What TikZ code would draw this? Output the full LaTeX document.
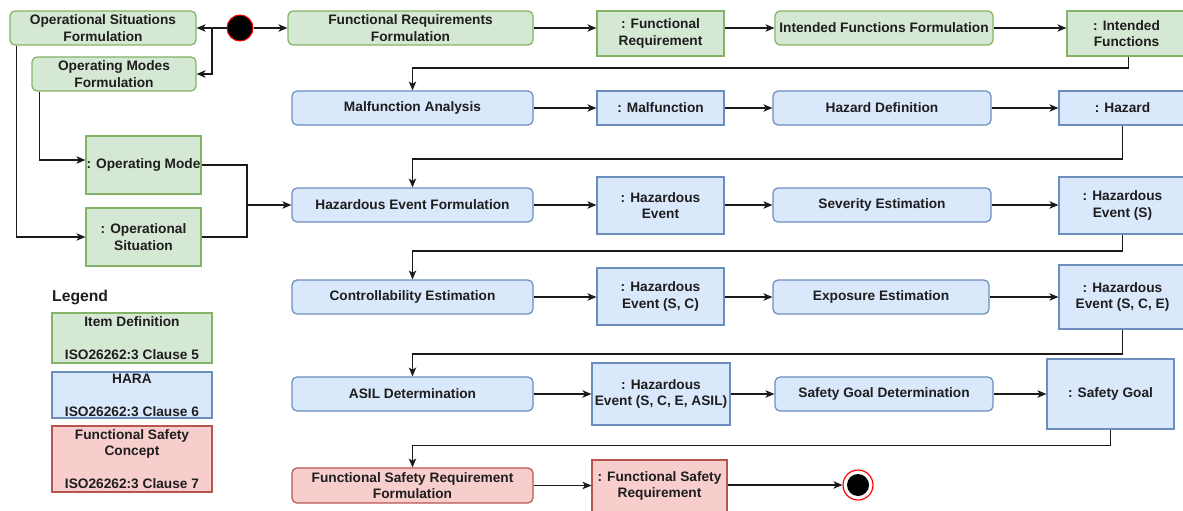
\documentclass[tikz,border=0pt]{standalone}
\usepackage{fontspec}
\setmainfont{Liberation Sans}
\usetikzlibrary{arrows.meta}

\definecolor{txt}{HTML}{1E1E1E}
\definecolor{gfill}{HTML}{D5E8D4}
\definecolor{gline}{HTML}{82B366}
\definecolor{bfill}{HTML}{DAE8FC}
\definecolor{bline}{HTML}{6C8EBF}
\definecolor{rfill}{HTML}{F8CECC}
\definecolor{rline}{HTML}{B85450}
\definecolor{wire}{HTML}{1A1A1A}

\begin{document}
\begin{tikzpicture}[x=1pt,y=-1pt,
  every node/.style={font=\fontsize{13.7}{16.5}\selectfont\bfseries, text=txt,
    align=center, inner sep=0pt},
  base/.style={draw, line width=1.2pt},
  proc/.style={base, rounded corners=5pt},
  obj/.style={base},
  itemdef/.style={fill=gfill, draw=gline},
  hara/.style={fill=bfill, draw=bline},
  fsc/.style={fill=rfill, draw=rline},
  sz/.style 2 args={minimum width=#1pt, minimum height=#2pt},
  arr/.style={draw=wire, line width=1.2pt, -{Stealth[length=9pt,width=7.5pt,inset=2.5pt]}},
  ln/.style={draw=wire, line width=1.2pt},
  startnode/.style={circle, draw=red, line width=1pt, fill=black, minimum size=26pt},
  endnode/.style={circle, draw=red, line width=1.2pt, fill=white, minimum size=30pt,
    path picture={\fill[black] (path picture bounding box.center) circle (11pt);}}
]
\useasboundingbox (0,0) rectangle (1183,511);

% ---- Item definition (green) ----
\node[proc, itemdef, sz={186}{34}] (OSF) at (103,28) {Operational Situations\\Formulation};
\node[proc, itemdef, sz={164}{34}] (OMF) at (114,74) {Operating Modes\\Formulation};
\node[startnode] (S) at (240,28) {};
\node[proc, itemdef, sz={245}{34}] (FRF) at (410.5,28) {Functional Requirements\\Formulation};
\node[obj, itemdef, sz={127}{45}] (FR) at (660.5,33.5) {: Functional\\Requirement};
\node[proc, itemdef, sz={218}{34}] (IFF) at (884,28) {Intended Functions Formulation};
\node[obj, itemdef, sz={119}{45}] (IF) at (1126.5,33.5) {: Intended\\Functions};

\node[obj, itemdef, sz={115}{58}] (OM) at (143.5,165) {: Operating Mode};
\node[obj, itemdef, sz={115}{58}] (OS) at (143.5,237) {: Operational\\Situation};

% ---- HARA (blue) ----
\node[proc, hara, sz={241}{34}] (MA) at (412.5,108) {Malfunction Analysis};
\node[obj, hara, sz={127}{34}] (MF) at (660.5,108) {: Malfunction};
\node[proc, hara, sz={218}{34}] (HD) at (882,108) {Hazard Definition};
\node[obj, hara, sz={127}{34}] (HZ) at (1122.5,108) {: Hazard};

\node[proc, hara, sz={241}{34}] (HEF) at (412.5,205) {Hazardous Event Formulation};
\node[obj, hara, sz={127}{57}] (HE) at (660.5,205.5) {: Hazardous\\Event};
\node[proc, hara, sz={218}{34}] (SE) at (882,205) {Severity Estimation};
\node[obj, hara, sz={127}{57}] (HES) at (1122.5,205.5) {: Hazardous\\Event (S)};

\node[proc, hara, sz={241}{34}] (CE) at (412.5,297) {Controllability Estimation};
\node[obj, hara, sz={127}{57}] (HESC) at (660.5,296.5) {: Hazardous\\Event (S, C)};
\node[proc, hara, sz={216}{34}] (EE) at (881,297) {Exposure Estimation};
\node[obj, hara, sz={127}{64}] (HESCE) at (1122.5,297) {: Hazardous\\Event (S, C, E)};

\node[proc, hara, sz={241}{34}] (AD) at (412.5,394) {ASIL Determination};
\node[obj, hara, sz={138}{62}] (HEA) at (661,394) {: Hazardous\\Event (S, C, E, ASIL)};
\node[proc, hara, sz={218}{34}] (SGD) at (884,394) {Safety Goal Determination};
\node[obj, hara, sz={127}{70}] (SG) at (1110.5,394) {: Safety Goal};

% ---- Functional safety concept (red) ----
\node[proc, fsc, sz={241}{35}] (FSRF) at (412.5,485.5) {Functional Safety Requirement\\Formulation};
\node[obj, fsc, sz={135}{52}] (FSR) at (659.5,486) {: Functional Safety\\Requirement};
\node[endnode] (E) at (858,485) {};

% ---- Legend ----
\node[anchor=west, font=\fontsize{15.7}{18}\selectfont\bfseries] (LG) at (52,297) {Legend};
\node[obj, itemdef, sz={160}{50}] (L1) at (132,338) {Item Definition\\[16.5pt]ISO26262:3 Clause 5};
\node[obj, hara, sz={160}{46}] (L2) at (132,395) {HARA\\[16.5pt]ISO26262:3 Clause 6};
\node[obj, fsc, sz={160}{66}] (L3) at (132,459) {Functional Safety\\Concept\\[16.5pt]ISO26262:3 Clause 7};

% ---- connectors: start and item definition ----
\coordinate (B) at (212,28);
\draw[ln] (S.west) -- (B);
\draw[arr] (B) -- (OSF.east);
\draw[arr] (B) |- (OMF.east);
\draw[arr] (S.east) -- (FRF.west);
\draw[arr] (FRF.east) -- (FRF.east -| FR.west);
\draw[arr] (IFF.west -| FR.east) -- (IFF.west);
\draw[arr] (IFF.east) -- (IFF.east -| IF.west);

\draw[arr] ([xshift=8pt]OMF.south west) |- ([yshift=5pt]OM.west);
\draw[arr] ([xshift=7pt]OSF.south west) |- (OS.west);
\coordinate (J) at (247,205);
\draw[ln] (OM.east) -| (J);
\draw[ln] (OS.east) -| (J);
\draw[arr] (J) -- (HEF.west);

% ---- row returns ----
\draw[arr] ([xshift=2pt]IF.south) |- (1128,68) -| (MA.north);
\draw[arr] (HZ.south) |- (1122.5,159) -| (HEF.north);
\draw[arr] (HES.south) |- (1122.5,251) -| (CE.north);
\draw[arr] (HESCE.south) |- (1122.5,354) -| (AD.north);
\draw[arr] (SG.south) |- (1110.5,445.5) -| (FSRF.north);

% ---- horizontal flow ----
\draw[arr] (MA.east) -- (MF.west);
\draw[arr] (MF.east) -- (HD.west);
\draw[arr] (HD.east) -- (HZ.west);

\draw[arr] (HEF.east) -- (HEF.east -| HE.west);
\draw[arr] (SE.west -| HE.east) -- (SE.west);
\draw[arr] (SE.east) -- (SE.east -| HES.west);

\draw[arr] (CE.east) -- (CE.east -| HESC.west);
\draw[arr] (EE.west -| HESC.east) -- (EE.west);
\draw[arr] (EE.east) -- (EE.east -| HESCE.west);

\draw[arr] (AD.east) -- (AD.east -| HEA.west);
\draw[arr] (SGD.west -| HEA.east) -- (SGD.west);
\draw[arr] (SGD.east) -- (SGD.east -| SG.west);

\draw[arr] (FSRF.east) -- (FSRF.east -| FSR.west);
\draw[arr] (FSR.east |- E.west) -- (E.west);
\end{tikzpicture}
\end{document}
